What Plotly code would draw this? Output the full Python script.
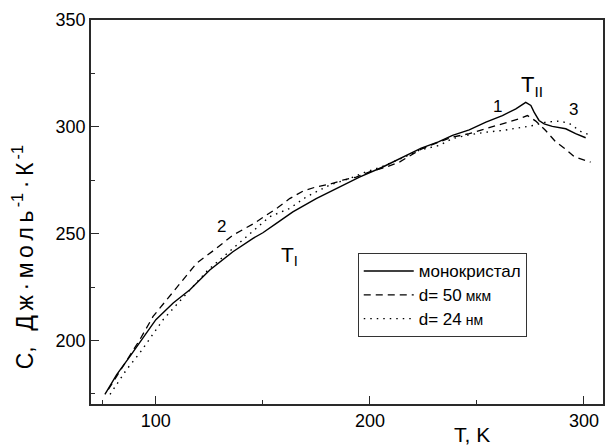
import plotly.graph_objects as go

# ---- data ----
T_mono = [76.2, 81.7, 87.9, 94.1, 100, 108.1, 115.9, 125.2, 136, 145.4, 150, 156.3, 164, 174.9,
          184.2, 195.1, 206, 216.9, 224, 232, 238.6, 246.4, 254.2, 261.9, 268.2, 272.8, 275.2,
          276.7, 279, 281.4, 285.2, 291.5, 296.1, 300.8]
C_mono = [174.7, 184.0, 192.5, 201.1, 209.7, 217.5, 223.7, 233.0, 241.5, 247.8, 250.4, 254.8, 260.2,
          266.4, 271.1, 276.5, 281.2, 286.7, 290.0, 293.0, 296.0, 298.6, 302.2, 305.3, 308.4, 311.5,
          310.0, 306.9, 303.0, 301.4, 300.2, 299.1, 296.8, 294.9]

T_50 = [77.8, 84.8, 92.5, 98.7, 105, 112.7, 119, 128.3, 136, 145.4, 150.8, 157, 162.5, 168.7, 174.9,
        181.1, 187.3, 193.6, 199.8, 207.6, 213.8, 224, 232, 238.6, 246.4, 254.2, 260.4, 269.7, 273.6,
        277.5, 282.1, 286.8, 291.5, 295.5, 303.1]
C_50 = [177, 187.9, 200.3, 211.2, 219, 228.3, 236.1, 243.1, 249.3, 254.5, 258.2, 262.2, 266.4, 269.9,
        271.9, 273.1, 275, 276.5, 278.9, 281.2, 283.5, 289.6, 292.8, 295.2, 296.8, 299.1, 301.1, 303.8,
        305.3, 302.7, 298.3, 293.0, 289.5, 286.0, 283.5]

T_24 = [78.6, 86.3, 92.5, 98, 103.4, 110.4, 116.6, 124.4, 136, 145.4, 153.1, 162.5, 170.3, 181.1,
        190.4, 198.2, 206, 216, 223.1, 232.4, 238.6, 246.4, 254.2, 261.9, 269.7, 276.7, 282.1, 288.3,
        293, 299, 303.5]
C_24 = [174.7, 186.3, 194.1, 201.9, 209.7, 217.5, 224.5, 233, 243.1, 251, 257.9, 261.8, 267.2, 272.7,
        275.8, 278.9, 281.5, 285.8, 289.1, 291.3, 294.5, 296.3, 297.5, 298.3, 299.4, 300.7, 302.2, 302.7,
        301.7, 297.5, 296]

names = ["<span style='font-size:17px'>монокристал</span>",
         "<span style='font-size:17px'>d= 50</span><span style='font-size:14px'> мкм</span>",
         "<span style='font-size:17px'>d= 24</span><span style='font-size:14px'> нм</span>"]

x_ticks = [100, 200, 300]
y_ticks = [200, 250, 300, 350]

FONT = "Arial, Liberation Sans, sans-serif"
TS = "\u2009"  # thin space (the reference title is loosely spaced)

fig = go.Figure()
fig.add_trace(go.Scatter(x=T_mono, y=C_mono, mode="lines", name=names[0],
                         line=dict(color="black", width=1.4)))
fig.add_trace(go.Scatter(x=T_50, y=C_50, mode="lines", name=names[1],
                         line=dict(color="black", width=1.3, dash="7px,5px")))
fig.add_trace(go.Scatter(x=T_24, y=C_24, mode="lines", name=names[2],
                         line=dict(color="black", width=1.4, dash="1.5px,5px")))

axis_common = dict(showline=True, linecolor="#2a2a2a", linewidth=1.5, mirror=True,
                   ticks="inside", ticklen=8, tickwidth=1.3, tickcolor="#2a2a2a",
                   showgrid=False, zeroline=False,
                   tickfont=dict(family=FONT, size=18, color="black"))

fig.update_xaxes(range=[69.7, 308.9], tickmode="array", tickvals=x_ticks,
                 minor=dict(tickmode="array", tickvals=[75, 150, 250], ticks="inside",
                            ticklen=4, tickwidth=1.2, tickcolor="#2a2a2a"),
                 **axis_common)
fig.update_yaxes(range=[170.2, 350.05], tickmode="array", tickvals=y_ticks,
                 minor=dict(tickmode="array", tickvals=[175, 225, 275, 325], ticks="inside",
                            ticklen=4, tickwidth=1.2, tickcolor="#2a2a2a"),
                 **axis_common)

ann = [
    dict(x=259.4, y=309.5, text="1", size=17),
    dict(x=130.6, y=253.5, text="2", size=17),
    dict(x=294.9, y=308.1, text="3", size=17),
    dict(x=275.8, y=319.3, text="T<sub>II</sub>", size=22),
    dict(x=162.5, y=239.5, text="T<sub>I</sub>", size=21),
]
for a in ann:
    fig.add_annotation(x=a["x"], y=a["y"], xref="x", yref="y", text=a["text"],
                       xanchor="center", yanchor="middle",
                       showarrow=False, font=dict(family=FONT, size=a["size"], color="black"))

fig.add_annotation(x=0.745, y=-0.08, xref="paper", yref="paper", text="T, K",
                   xanchor="center", yanchor="middle",
                   showarrow=False, font=dict(family=FONT, size=21, color="black"))

ytitle = ("С," + TS + " " + TS + TS.join("Дж·моль")
          + "<sup>" + TS + "-1</sup>" + TS + "·" + TS + "К" + "<sup>" + TS + "-1</sup>")
fig.add_annotation(x=-0.132, y=0.383, xref="paper", yref="paper",
                   text=ytitle, textangle=-90,
                   xanchor="center", yanchor="middle",
                   showarrow=False, font=dict(family=FONT, size=23, color="black"))

fig.update_layout(
    width=610, height=448,
    margin=dict(l=91, r=5, t=20, b=44),
    paper_bgcolor="white", plot_bgcolor="white",
    font=dict(family=FONT, color="black"),
    legend=dict(x=0.521, y=0.393, xanchor="left", yanchor="top",
                bordercolor="#333", borderwidth=1, bgcolor="white",
                font=dict(family=FONT, size=16, color="black"),
                itemwidth=50),
    showlegend=True,
)

fig.write_html("out.html")
